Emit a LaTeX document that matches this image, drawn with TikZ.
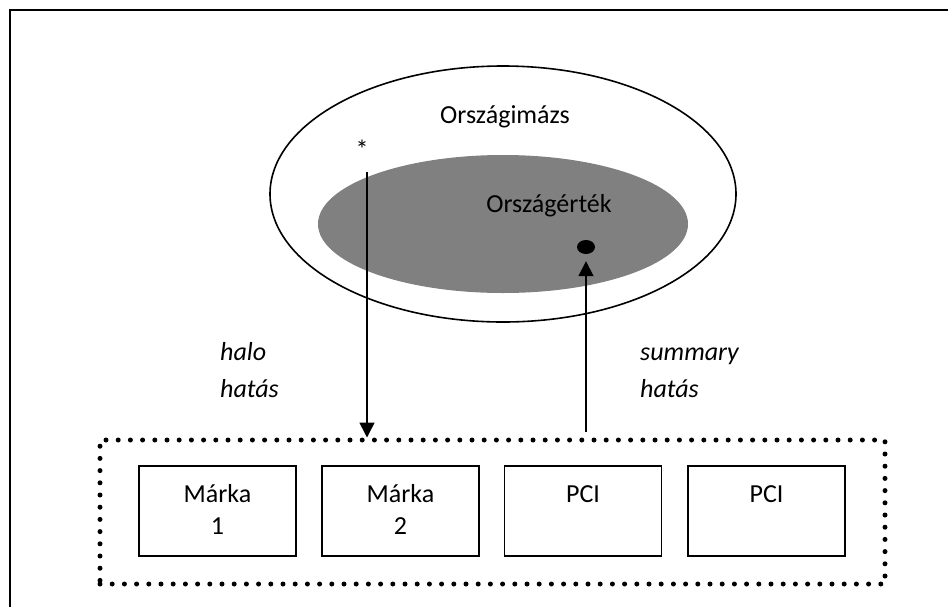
\documentclass[tikz,border=0pt]{standalone}
\usepackage{fontspec}
\setmainfont{Carlito}
\usetikzlibrary{arrows.meta,shapes.geometric,calc}
\definecolor{midgray}{HTML}{808080}
\begin{document}
\begin{tikzpicture}[x=1pt,y=-1pt,
  every node/.style={font=\fontsize{26}{32}\selectfont, inner sep=0pt},
  lbl/.style={anchor=base},
  ital/.style={anchor=base west, font=\fontsize{26}{32}\selectfont\itshape},
  brand/.style={draw, line width=1.6pt, minimum width=157pt, minimum height=90pt},
  arr/.style={line width=1.6pt, -{Triangle[width=15pt,length=15pt]}},
  dotsbox/.style={draw, line width=5pt, line cap=round, dash pattern=on 0pt off 12.2pt, minimum width=785pt, minimum height=144pt}]
\useasboundingbox (0,0) rectangle (948,606);
\draw[line width=2pt] (10,640) -- (10,10) -- (970,10);
% ellipses
\node[draw, ellipse, line width=1.6pt, minimum width=466pt, minimum height=256pt] (outer) at (503,194) {};
\node[ellipse, fill=midgray, minimum width=370pt, minimum height=138pt] (inner) at (503,224) {};
\node[lbl] (imazs) at (505,123) {Országimázs};
\node[lbl] (ertek) at (549,212) {Országérték};
\node[lbl] (star) at (362,158) {*};
\node[ellipse, fill=black, minimum width=18pt, minimum height=14pt] (dot) at (586,247) {};
% side labels
\node[ital] (halo) at (220,360) {halo};
\node[ital] (hatasl) at (220,397) {hatás};
\node[ital] (summary) at (640,360) {summary};
\node[ital] (hatasr) at (640,397) {hatás};
% dotted group
\node[dotsbox] (group) at (492.5,512) {};
% brand boxes
\node[brand] (b1) at (217.5,511) {};
\node[brand] (b2) at (400.5,511) {};
\node[brand] (b3) at (583,511) {};
\node[brand] (b4) at (766.5,511) {};
\node[lbl] (b1a) at ($(b1.north)+(0,37)$) {Márka};
\node[lbl] (b1b) at ($(b1.north)+(0,69)$) {1};
\node[lbl] (b2a) at ($(b2.north)+(0,37)$) {Márka};
\node[lbl] (b2b) at ($(b2.north)+(0,69)$) {2};
\node[lbl] (b3a) at ($(b3.north)+(0,37)$) {PCI};
\node[lbl] (b4a) at ($(b4.north)+(0,37)$) {PCI};
% arrows
\coordinate (a1) at (367,172);
\draw[arr] (a1) -- (a1 |- group.north);
\coordinate (a2) at (586,432);
\draw[arr] (a2) -- ($(dot.south)+(0,7)$);
\end{tikzpicture}
\end{document}
